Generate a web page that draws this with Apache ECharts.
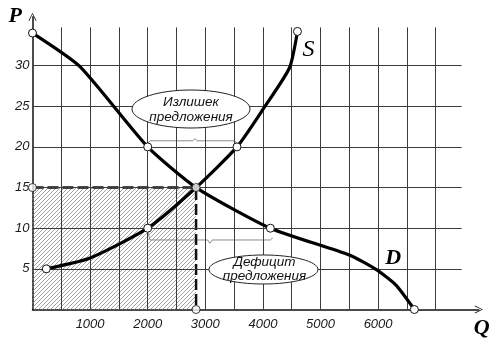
<!DOCTYPE html>
<html><head><meta charset="utf-8">
<script src="https://cdn.jsdelivr.net/npm/echarts@6/dist/echarts.min.js"></script>
<style>html,body{margin:0;padding:0;background:#fff}#c{width:500px;height:347px}</style>
</head><body><div id="c"></div>
<script>
// ---- data ----
const demandQ = [0, 820, 2000, 2840, 4130, 5500, 5970, 6310, 6630];
const demandP = [34, 29.9, 20, 15, 10, 6.7, 4.9, 3.0, 0];
const demandDotIdx = [0, 2, 4, 8];
const supplyQ = [240, 990, 2000, 2840, 3550, 4000, 4460, 4600];
const supplyP = [5, 6.3, 10, 15, 20, 24.6, 29.7, 34.2];
const supplyDotIdx = [0, 2, 4, 7];
const eqQ = 2840, eqP = 15;
const xTickLabels = [1000, 2000, 3000, 4000, 5000, 6000];
const yTickLabels = [5, 10, 15, 20, 25, 30];
const xGridValues = [500, 1000, 1500, 2000, 2500, 3000, 3500, 4000, 4500, 5000, 5500, 6000, 6500, 7000];
const yGridValues = [5, 10, 15, 20, 25, 30];
const surplusBraceQ = [2000, 2040, 2780, 2820, 2860, 3510, 3550];
const surplusBraceP = [20.4, 20.75, 20.75, 21.0, 20.75, 20.75, 20.4];
const deficitBraceQ = [2000, 2040, 3040, 3080, 3120, 4130, 4170];
const deficitBraceP = [9.6, 8.55, 8.55, 8.15, 8.55, 8.55, 8.8];
const surplusText = 'Излишек\nпредложения';
const deficitText = 'Дефицит\nпредложения';

// ---- build ----
const chart = echarts.init(document.getElementById('c'));
const X_MAX = 7750, Y_MAX = 36, GRID_TOP = 34.7, GRID_RIGHT = 7450;

const hatch = document.createElement('canvas');
hatch.width = 4; hatch.height = 4;
const hc = hatch.getContext('2d');
hc.strokeStyle = '#8a8a8a'; hc.lineWidth = 0.8;
hc.beginPath();
hc.moveTo(-1, 5); hc.lineTo(5, -1);
hc.moveTo(-1, 1); hc.lineTo(1, -1);
hc.moveTo(3, 5); hc.lineTo(5, 3);
hc.stroke();

const gridLines = [];
xGridValues.forEach(v => gridLines.push([{coord: [v, 0]}, {coord: [v, GRID_TOP]}]));
yGridValues.forEach(v => gridLines.push([{coord: [0, v]}, {coord: [GRID_RIGHT, v]}]));

const chevron = 'path://M50,0 L100,100 L88,100 L50,16 L12,100 L0,100 Z';
const sans = '"Liberation Sans", Arial, sans-serif';
const serif = '"Liberation Serif", "DejaVu Serif", serif';
const labelFont = {fontStyle: 'italic', fontSize: 13, color: '#1a1a1a', fontFamily: sans};

function curveData(qs, ps, dots) {
  return qs.map((q, i) => ({value: [q, ps[i]], symbol: dots.includes(i) ? 'circle' : 'none'}));
}
const dotStyle = {color: '#fff', borderColor: '#111', borderWidth: 1};

const option = {
  animation: false,
  backgroundColor: '#fff',
  grid: {left: 32.5, right: 21.1, top: 16.8, bottom: 37.5},
  xAxis: {
    type: 'value', min: 0, max: X_MAX, interval: 500,
    axisLine: {show: true, lineStyle: {color: '#111', width: 1.5}, symbol: ['none', chevron], symbolSize: [8, 18]},
    axisTick: {show: false}, splitLine: {show: false},
    axisLabel: Object.assign({margin: 8, showMaxLabel: false, formatter: v => xTickLabels.includes(v) ? String(v) : ''}, labelFont)
  },
  yAxis: {
    type: 'value', min: 0, max: Y_MAX, interval: 5,
    axisLine: {show: true, lineStyle: {color: '#111', width: 1.5}, symbol: ['none', chevron], symbolSize: [8, 16]},
    axisTick: {show: false}, splitLine: {show: false},
    axisLabel: Object.assign({margin: 3, showMaxLabel: false, formatter: v => yTickLabels.includes(v) ? String(v) : ''}, labelFont)
  },
  series: [
    {
      type: 'line', data: [], silent: true, z: 1,
      markLine: {silent: true, symbol: ['none', 'none'], label: {show: false},
        lineStyle: {color: '#3c3c3c', width: 1, type: 'solid'}, data: gridLines},
      markArea: {silent: true, itemStyle: {color: {image: hatch, repeat: 'repeat'}},
        data: [[{coord: [0, 0]}, {coord: [eqQ, eqP]}]]}
    },
    {
      type: 'line', silent: true, z: 3, symbol: 'none',
      data: [[0, eqP], [eqQ, eqP], [eqQ, 0]],
      lineStyle: {color: '#111', width: 2.5, type: [11, 4]}
    },
    {
      type: 'line', silent: true, z: 2, symbol: 'none',
      data: surplusBraceQ.map((q, i) => [q, surplusBraceP[i]]),
      lineStyle: {color: '#8a8a8a', width: 1}
    },
    {
      type: 'line', silent: true, z: 2, symbol: 'none',
      data: deficitBraceQ.map((q, i) => [q, deficitBraceP[i]]),
      lineStyle: {color: '#8a8a8a', width: 1}
    },
    {
      name: 'D', type: 'line', z: 5, smooth: 0.2, showAllSymbol: true, symbolSize: 8,
      data: curveData(demandQ, demandP, demandDotIdx),
      lineStyle: {color: '#000', width: 3.2}, itemStyle: dotStyle
    },
    {
      name: 'S', type: 'line', z: 5, smooth: 0.2, showAllSymbol: true, symbolSize: 8,
      data: curveData(supplyQ, supplyP, supplyDotIdx),
      lineStyle: {color: '#000', width: 3.2}, itemStyle: dotStyle
    },
    {
      type: 'scatter', z: 6, symbol: 'circle', symbolSize: 8, silent: true,
      data: [[eqQ, eqP], [0, eqP], [eqQ, 0]], itemStyle: dotStyle
    }
  ]
};
chart.setOption(option);

const px = (q, p) => chart.convertToPixel({gridIndex: 0}, [q, p]);
const ellText = {fontStyle: 'italic', fontSize: 13.5, fontFamily: sans, fill: '#111', align: 'center', verticalAlign: 'middle'};
const bigBI = {fontStyle: 'italic', fontWeight: 'bold', fontSize: 22, fontFamily: serif, fill: '#000', align: 'center', verticalAlign: 'middle'};
const bigI = {fontStyle: 'italic', fontWeight: 'normal', fontSize: 24, fontFamily: serif, fill: '#000', align: 'center', verticalAlign: 'middle'};
const e1 = px(2752, 24.66), e2 = px(4010, 4.92);
const sPos = px(4790, 31.9), dPos = px(6260, 6.3), pPos = px(-300, 36.1), qPos = px(7800, -2.3);
chart.setOption({
  graphic: [
    {type: 'ellipse', z: 100, shape: {cx: e1[0], cy: e1[1], rx: 59, ry: 19}, style: {fill: '#fff', stroke: '#222', lineWidth: 1}},
    {type: 'text', z: 101, x: e1[0], y: e1[1] + 1, style: Object.assign({text: surplusText, lineHeight: 15}, ellText)},
    {type: 'ellipse', z: 100, shape: {cx: e2[0], cy: e2[1], rx: 54.5, ry: 14.5}, style: {fill: '#fff', stroke: '#222', lineWidth: 1}},
    {type: 'text', z: 101, x: e2[0] + 1, y: e2[1], style: Object.assign({text: deficitText, lineHeight: 14}, ellText)},
    {type: 'text', z: 101, x: sPos[0], y: sPos[1], style: Object.assign({text: 'S'}, bigI)},
    {type: 'text', z: 101, x: dPos[0], y: dPos[1], style: Object.assign({text: 'D'}, bigBI)},
    {type: 'text', z: 101, x: pPos[0], y: pPos[1], style: Object.assign({text: 'P'}, bigBI)},
    {type: 'text', z: 101, x: qPos[0], y: qPos[1], style: Object.assign({text: 'Q'}, bigBI)}
  ]
});
</script></body></html>
